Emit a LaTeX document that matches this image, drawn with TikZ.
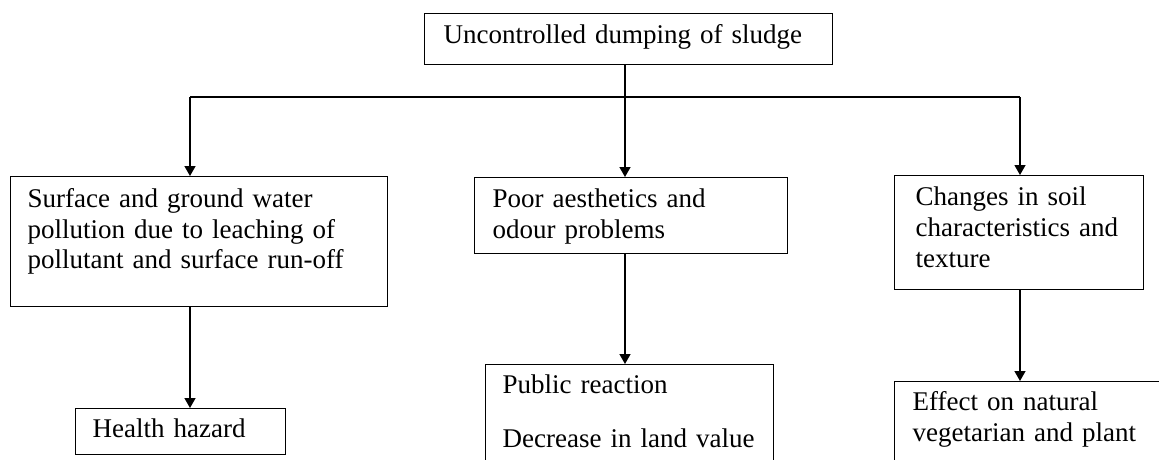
\documentclass[tikz,border=0pt]{standalone}
\usepackage{fontspec}
\setmainfont{Liberation Serif}
\usetikzlibrary{arrows.meta}
\tikzstyle{effectbox} = [draw, line width=1.4pt, anchor=north west, align=left, inner ysep=0pt]
\tikzstyle{link} = [line width=1.4pt]
\tikzstyle{flowarrow} = [line width=1.4pt, -{Triangle[width=11pt,length=10pt]}]

\begin{document}
\begin{tikzpicture}[x=1pt, y=-1pt, font=\fontsize{27}{30.7}\selectfont]
\useasboundingbox (0,0) rectangle (1159,459);

% Source
\node[effectbox, inner xsep=19pt, text width=370pt, text height=29.7pt, text depth=21.3pt] (dumping) at (424,13) {Uncontrolled dumping of sludge};

% First level effects
\node[effectbox, inner xsep=17pt, text width=343pt, text height=30.7pt, text depth=99.3pt] (water) at (10,176) {Surface and ground water\\pollution due to leaching of\\pollutant and surface run-off};
\node[effectbox, inner xsep=18pt, text width=277pt, text height=29.7pt, text depth=46.3pt] (odour) at (474,177) {Poor aesthetics and\\odour problems};
\node[effectbox, inner xsep=21pt, text width=207pt, text height=30pt, text depth=84pt] (soil) at (894,175) {Changes in soil\\characteristics and\\texture};

% Second level effects
\node[effectbox, inner xsep=17pt, text width=176pt, text height=29pt, text depth=17pt] (health) at (75,408) {Health hazard};
\node[effectbox, inner xsep=17pt, text width=254pt, text height=29pt, text depth=90pt] (public) at (485,364) {Public reaction\\[23pt]Decrease in land value};
\node[effectbox, inner xsep=18pt, text width=250pt, text height=29pt, text depth=100pt] (effect) at (894,381) {Effect on natural\\vegetarian and plant};

% Branching lines
\coordinate (split) at (625,97);
\coordinate (busL) at (190,97);
\coordinate (busR) at (1020,97);
\draw[link] (dumping.south -| split) -- (split);
\draw[link] (busL) -- (busR);

\foreach \busx/\srcbox/\dstbox in {busL/water/health, split/odour/public, busR/soil/effect} {
    \draw[flowarrow] (\busx) -- (\busx |- \srcbox.north);
    \draw[flowarrow] (\srcbox.south -| \busx) -- (\dstbox.north -| \busx);
}
\end{tikzpicture}
\end{document}
